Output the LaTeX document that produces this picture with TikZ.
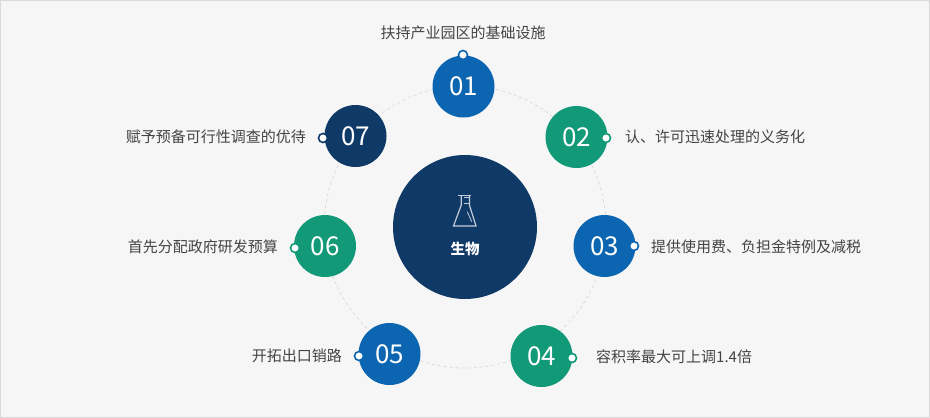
\documentclass[tikz,border=0pt]{standalone}
\usepackage{fontspec}
\setmainfont{Noto Sans CJK SC}
\definecolor{navy}{HTML}{0F3966}
\definecolor{midblue}{HTML}{0B65B0}
\definecolor{teal}{HTML}{119978}
\definecolor{labelgray}{HTML}{444444}
\definecolor{panelgray}{HTML}{F6F6F6}
\definecolor{framegray}{HTML}{D9D9D9}
\definecolor{ringgray}{HTML}{D8D8D8}
\tikzset{
  bubble/.style={circle,minimum size=62pt,inner sep=0pt,text=white,font=\fontsize{26}{30}\selectfont},
  pin/.style={circle,draw,line width=1.6pt,fill=white,minimum size=9pt,inner sep=0pt},
  caption/.style={text=labelgray,inner sep=0pt,font=\fontsize{15}{18}\selectfont},
  flask/.style={draw=white!75!navy,line width=1.2pt}
}
\begin{document}
\begin{tikzpicture}[x=1pt,y=-1pt]
  \useasboundingbox (0,0) rectangle (930,418);
  \draw[framegray,fill=panelgray,line width=1pt] (0.5,0.5) rectangle (929.5,417.5);
  \coordinate (center) at (465,227);
  \draw[ringgray,dashed,line width=0.7pt] (center) circle (141);
  \node[circle,fill=navy,minimum size=144pt,inner sep=0pt] (bio) at (center) {};
  % flask
  \draw[flask] (458,195.7)--(470.7,195.7);
  \draw[flask] (461.3,195.7)--(461.3,205)--(453.5,226)--(476,226)--(469.4,205)--(469.4,195.7);
  \draw[flask,line width=0.8pt] (464,197.5)--(469.4,197.5);
  \draw[flask,line width=0.8pt] (464,203)--(469.4,203);
  \draw[flask,line width=0.8pt] (467.3,211.7)--(471.7,221.7);
  \node[text=white,inner sep=0pt,font=\fontsize{14.5}{18}\selectfont\bfseries] (biotext) at (465,249) {生物};
  % bubbles
  \foreach \name/\x/\y/\col in {01/463.5/86.5/midblue,02/576.5/137/teal,03/604.5/246/midblue,
      04/541.5/356/teal,05/389.5/354/midblue,06/325/246/teal,07/355.5/136/navy}
    {\node[bubble,fill=\col] (b\name) at (\x,\y) {\name};}
  % pins
  \foreach \name/\x/\y/\col in {01/463/55/midblue,02/606/138/teal,03/634/246/midblue,
      04/572/358/teal,05/359/356/midblue,06/295/248/teal,07/323/138/navy}
    {\node[pin,draw=\col] (p\name) at (\x,\y) {};}
  % captions
  \node[caption] (c01) at (463,33) {扶持产业园区的基础设施};
  \node[caption,anchor=west] (c02) at (625,137) {认、许可迅速处理的义务化};
  \node[caption,anchor=west] (c03) at (651,247) {提供使用费、负担金特例及减税};
  \node[caption,anchor=west] (c04) at (596,357) {容积率最大可上调1.4倍};
  \node[caption,anchor=east] (c05) at (342,356) {开拓出口销路};
  \node[caption,anchor=east] (c06) at (278,247) {首先分配政府研发预算};
  \node[caption,anchor=east] (c07) at (306,137) {赋予预备可行性调查的优待};
\end{tikzpicture}
\end{document}
